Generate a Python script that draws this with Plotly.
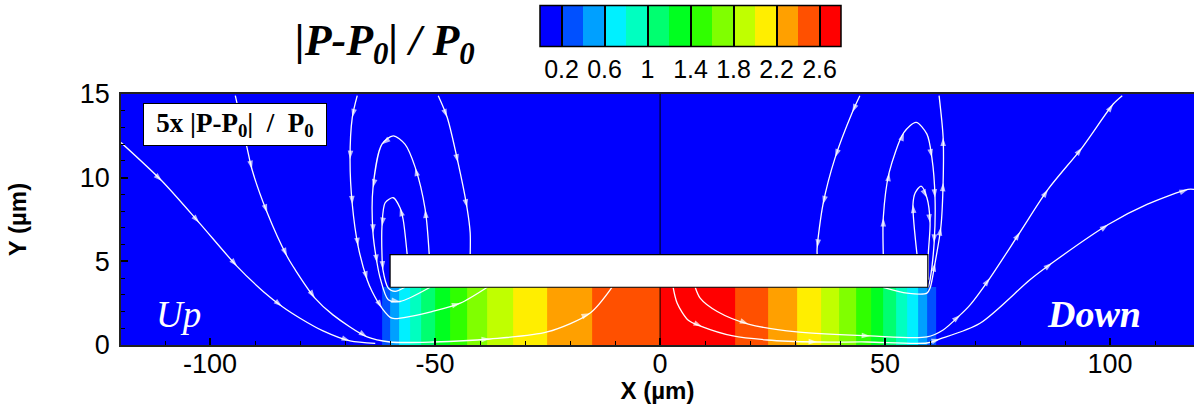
import plotly.graph_objects as go

# Filled contour bands along the channel under the plate
band_edges = [-120, -61.8, -60, -57.9, -55.6, -53.1, -50, -46.7, -42.8, -38.4, -32.7, -25.2, -15.2, 0,
              16.7, 24.1, 30.4, 35.7, 39.8, 43.5, 46.9, 49.6, 52.4, 54.9, 57.3, 59.3, 61.3, 120]
band_values = [0.1, 0.3, 0.5, 0.7, 0.9, 1.1, 1.3, 1.5, 1.7, 1.9, 2.1, 2.3, 2.5, 2.7,
               2.5, 2.3, 2.1, 1.9, 1.7, 1.5, 1.3, 1.1, 0.9, 0.7, 0.5, 0.3, 0.1]
upper_values = [0.1] * len(band_values)
y_edges = [0, 3.45, 15]

level_colors = ["#0000ff", "#0050ff", "#00a0ff", "#00f0ff", "#00ffc0", "#00ff70", "#00ff20",
                "#30ff00", "#80ff00", "#c0ff00", "#ffee00", "#ffa000", "#ff5000", "#ff0000"]
cbar_ticks = [0.2, 0.6, 1.0, 1.4, 1.8, 2.2, 2.6]
cbar_labels = ["0.2", "0.6", "1", "1.4", "1.8", "2.2", "2.6"]

plate_x = [-60, 59.5, 59.5, -60, -60]
plate_y = [3.45, 3.45, 5.4, 5.4, 3.45]
center_x = [0, 0]
center_y = [0, 15]

# Streamlines (x, y, indices of points that carry an arrow)
a_x = [-119.8, -110.7, -102.4, -94, -88.2, -84, -80, -74.9, -68.9, -63.3]
a_y = [12.1, 9.8, 7.3, 4.7, 3.2, 2.3, 1.6, 0.84, 0.24, 0.1]
a_arrows = [1, 2, 3, 5, 8]
b_x = [-94.4, -91.8, -90.7, -87.3, -82.9, -81.1, -76.7, -72.7, -65.1, -60, -50.4, -37.8, -25.1, -15.6, -10.7]
b_y = [14.9, 11.8, 10.5, 7.9, 5.3, 4.5, 2.8, 1.8, 0.48, 0.18, 0.18, 0.36, 0.78, 1.9, 3.45]
b_arrows = [2, 3, 4, 6, 8, 11, 13]
c_x = [-67.3, -68.4, -68.9, -68.4, -67.1, -65.1, -64, -61.8, -59.6, -55.1, -50.7, -44.4, -38.4]
c_y = [14.9, 13.6, 11.1, 8.4, 5.9, 3.9, 3.2, 2.2, 1.6, 1.73, 2.0, 2.5, 3.45]
c_arrows = [1, 2, 3, 4, 5, 7, 11]
l_x = [-49.3, -47.3, -44.9, -42.9, -42.2, -42.2]
l_y = [14.9, 13.6, 10.9, 8.2, 6.7, 5.4]
l_arrows = [1, 2, 3]
d_x = [-51.3, -52.2, -54.4, -56.7, -59.3, -61.8, -63.8, -63.8, -62.9, -62.2, -60.4, -57.8, -51.1]
d_y = [5.4, 8.1, 10.6, 12, 12.5, 12, 9.4, 6.7, 4.9, 4, 2.7, 2.6, 3.45]
d_arrows = [1, 2, 5, 6, 7, 8, 11]
e_x = [-56.2, -57.1, -57.8, -59.3, -61.1, -61.8, -61.8, -61.6, -60.4, -58.9, -56.7]
e_y = [5.4, 7.5, 8.2, 8.8, 8.5, 7.1, 5.4, 4.5, 3.4, 3.2, 3.45]
e_arrows = [2, 5, 7]
f_x = [2.9, 3.8, 6.2, 9.3, 16.2, 23.8, 34.9, 46, 59.3, 62.2, 71.1, 82.2, 87.1, 99.6, 108.2, 117.3, 118.7]
f_y = [3.45, 2.5, 1.5, 1.1, 0.54, 0.3, 0.18, 0.18, 0.12, 0.36, 1.3, 3.9, 4.9, 7.2, 8.4, 9.3, 9.3]
f_arrows = [3, 6, 9, 12, 13, 15]
g_x = [7.8, 8.9, 12.7, 19.6, 30.4, 46.7, 59.3, 62.9, 66.7, 68.9, 73.3, 80, 86.2, 93.8, 100.7, 102.7]
g_y = [3.45, 2.8, 2, 1.25, 0.78, 0.54, 0.48, 0.9, 1.8, 2.4, 4, 6.75, 9.3, 11.8, 14.4, 14.9]
g_arrows = [3, 5, 8, 10, 11, 12, 13, 14]
h_x = [49.6, 54.9, 59.3, 60, 61.1, 62.4, 62.9, 62.9, 62]
h_y = [3.45, 3.1, 3.1, 3.4, 4.9, 7.05, 9.7, 12.4, 14.9]
h_arrows = [4, 5, 6, 7]
i_x = [49.6, 49.6, 50.9, 54.2, 56.9, 59.3, 60.4, 61.1, 60.9, 60, 59.6]
i_y = [5.4, 7.6, 10.3, 12.7, 13.3, 12.6, 11.2, 8.8, 6.1, 3.9, 3.45]
i_arrows = [1, 2, 3, 6, 7, 8]
j_x = [57.1, 56.2, 56.7, 58, 59.3, 60, 59.6, 59.6]
j_y = [5.4, 8.4, 9.1, 9.5, 8.8, 7.3, 5.4, 3.9]
j_arrows = [1, 4, 5]
k_x = [44.4, 42.7, 38.9, 36.2, 34.9, 34.9]
k_y = [14.9, 13.9, 11.2, 8.4, 5.8, 5.4]
k_arrows = [1, 2, 3, 4]

streamlines = [(a_x, a_y, a_arrows), (b_x, b_y, b_arrows), (c_x, c_y, c_arrows), (l_x, l_y, l_arrows),
               (d_x, d_y, d_arrows), (e_x, e_y, e_arrows), (f_x, f_y, f_arrows), (g_x, g_y, g_arrows),
               (h_x, h_y, h_arrows), (i_x, i_y, i_arrows), (j_x, j_y, j_arrows), (k_x, k_y, k_arrows)]

n = len(level_colors)
colorscale = []
for i, c in enumerate(level_colors):
    colorscale += [[i / n, c], [(i + 1) / n, c]]

W, H = 1194, 404
ml, mr, mt, mb = 121, 0, 94, 59
pw, ph = W - ml - mr, H - mt - mb

fig = go.Figure()
fig.add_trace(go.Heatmap(
    x=band_edges, y=y_edges, z=[band_values, upper_values],
    zmin=0, zmax=2.8, colorscale=colorscale, zsmooth=False, hoverinfo="skip",
    colorbar=dict(
        orientation="h",
        x=(540 - ml) / pw, xanchor="left", y=1 + (94 - 125) / ph, yanchor="bottom",
        lenmode="pixels", len=301, thicknessmode="pixels", thickness=41,
        xpad=0, ypad=0, outlinecolor="black", outlinewidth=1.5,
        tickmode="array", tickvals=cbar_ticks, ticktext=cbar_labels,
        ticks="inside", ticklen=41, tickwidth=1.5, tickcolor="black",
        tickfont=dict(family="Liberation Sans", size=25, color="black"),
    ),
))
fig.add_trace(go.Scatter(x=center_x, y=center_y, mode="lines",
                         line=dict(color="black", width=1), hoverinfo="skip", showlegend=False))
for sx, sy, arrows in streamlines:
    fig.add_trace(go.Scatter(
        x=sx, y=sy, mode="lines+markers", showlegend=False, hoverinfo="skip",
        line=dict(color="white", width=1.3, shape="spline", smoothing=0.8),
        marker=dict(symbol="arrow", angleref="previous", color="white", line=dict(width=0),
                    size=[9 if i in arrows else 0 for i in range(len(sx))]),
    ))
fig.add_trace(go.Scatter(x=plate_x, y=plate_y, mode="lines", fill="toself", fillcolor="white",
                         line=dict(color="black", width=1.2), hoverinfo="skip", showlegend=False))

fig.update_layout(
    width=W, height=H, margin=dict(l=ml, r=mr, t=mt, b=mb, autoexpand=False),
    paper_bgcolor="white", plot_bgcolor="#0000ff", showlegend=False,
    font=dict(family="Liberation Sans", color="black"),
    xaxis=dict(range=[-119.8, 118.65], tickmode="array", tickvals=[-100, -50, 0, 50, 100],
               ticktext=["-100", "-50", "0", "50", "100"],
               ticks="inside", ticklen=7, tickwidth=1.5, tickcolor="black", ticklabelstandoff=-6,
               minor=dict(dtick=10, tick0=0, ticks="inside", ticklen=4, tickwidth=1, tickcolor="black"),
               showgrid=False, zeroline=False, showline=True, linecolor="#222", linewidth=1.5, mirror=True,
               tickfont=dict(size=27),
               title=dict(text="<b>X (µm)</b>", font=dict(size=24), standoff=56)),
    yaxis=dict(range=[0, 15], tickmode="array", tickvals=[0, 5, 10, 15],
               ticks="inside", ticklen=7, tickwidth=1.5, tickcolor="black", ticklabelstandoff=4,
               minor=dict(dtick=1, tick0=0, ticks="inside", ticklen=4, tickwidth=1, tickcolor="black"),
               showgrid=False, zeroline=False, showline=True, linecolor="#222", linewidth=1.5, mirror=True,
               tickfont=dict(size=27),
               title=dict(text="<b>Y (µm)</b>", font=dict(size=24), standoff=46)),
    annotations=[
        dict(text="<b><i>|P-P<sub>0</sub>| / P<sub>0</sub></i></b>", xref="paper", yref="paper",
             x=(385 - ml) / pw, y=1 + (94 - 44) / ph, xanchor="center", yanchor="middle", showarrow=False,
             font=dict(family="Liberation Serif", size=44, color="black")),
        dict(text="<b>5x |P-P<sub>0</sub>| &nbsp;/ &nbsp;P<sub>0</sub></b>", x=-94.5, y=13.15, showarrow=False,
             width=182, height=41, bgcolor="white", bordercolor="black", borderwidth=1, borderpad=0,
             font=dict(family="Liberation Serif", size=27, color="black")),
        dict(text="<i>Up</i>", x=-107, y=1.85, showarrow=False,
             font=dict(family="Liberation Serif", size=37, color="white")),
        dict(text="<b><i>Down</i></b>", x=96.5, y=1.85, showarrow=False,
             font=dict(family="Liberation Serif", size=38, color="white")),
    ],
)

fig.write_html("out.html", config={"displayModeBar": False},
               post_script="document.body.style.margin='0';document.body.style.overflow='hidden';")
